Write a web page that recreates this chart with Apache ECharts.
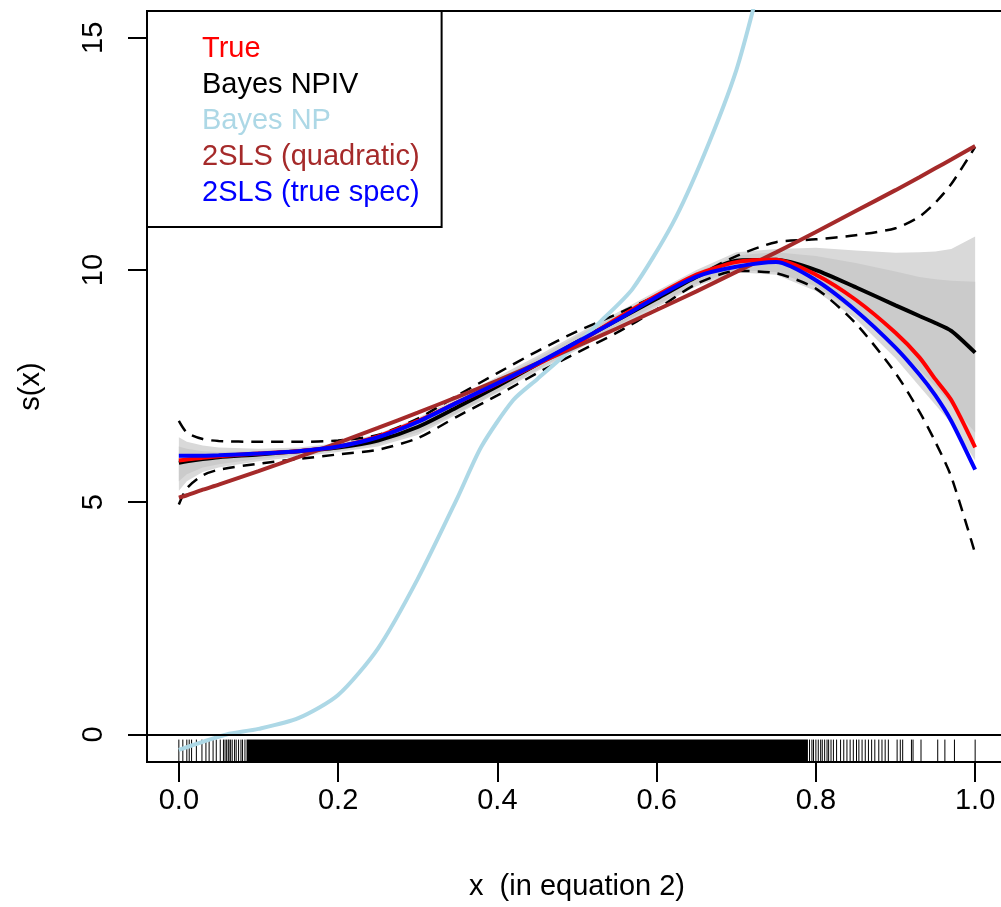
<!DOCTYPE html>
<html>
<head>
<meta charset="utf-8">
<script src="https://cdn.jsdelivr.net/npm/echarts@6/dist/echarts.min.js"></script>
<style>
  html, body { margin: 0; padding: 0; background: #fff; }
  #chart { width: 1001px; height: 907px; }
</style>
</head>
<body>
<div id="chart"></div>
<script>
// shared x grid for the estimated curves
var xs = [0, 0.01, 0.03, 0.05, 0.1, 0.15, 0.2, 0.25, 0.3, 0.35, 0.4, 0.45, 0.5,
  0.55, 0.6, 0.65, 0.7, 0.75, 0.8, 0.85, 0.9, 0.93, 0.95, 0.97, 1];

var trueY = [5.9, 5.92, 5.96, 5.99, 6.05, 6.1, 6.2, 6.42, 6.75, 7.15, 7.55, 7.97, 8.42,
  8.95, 9.45, 9.9, 10.17, 10.22, 9.9, 9.36, 8.65, 8.12, 7.65, 7.2, 6.18];
var npivY = [5.85, 5.88, 5.93, 5.97, 6.03, 6.1, 6.18, 6.33, 6.62, 7.05, 7.5, 7.97, 8.45,
  8.92, 9.38, 9.85, 10.2, 10.22, 10.0, 9.63, 9.24, 9.01, 8.86, 8.69, 8.22];
var tslsTrueY = [6.0, 6.0, 6.0, 6.01, 6.05, 6.1, 6.2, 6.4, 6.73, 7.15, 7.56, 7.99, 8.45,
  8.92, 9.42, 9.86, 10.07, 10.17, 9.78, 9.13, 8.33, 7.75, 7.3, 6.75, 5.7];
var tslsQuadY = [5.1, 5.15, 5.27, 5.38, 5.67, 5.97, 6.28, 6.6, 6.93, 7.27, 7.62, 7.99, 8.36,
  8.74, 9.14, 9.54, 9.96, 10.38, 10.82, 11.27, 11.72, 12.0, 12.19, 12.38, 12.67];
var dashHi = [6.75, 6.5, 6.36, 6.32, 6.3, 6.3, 6.33, 6.45, 6.8, 7.3, 7.78, 8.25, 8.68,
  9.05, 9.45, 9.87, 10.3, 10.6, 10.66, 10.75, 10.9, 11.15, 11.45, 11.85, 12.65];
var dashLo = [4.95, 5.3, 5.58, 5.7, 5.83, 5.93, 6.03, 6.13, 6.38, 6.85, 7.3, 7.78, 8.22,
  8.65, 9.15, 9.7, 9.98, 9.93, 9.6, 8.85, 7.78, 6.95, 6.3, 5.55, 3.9];
var outerHi = [6.4, 6.3, 6.22, 6.18, 6.15, 6.18, 6.27, 6.47, 6.82, 7.25, 7.7, 8.15, 8.62,
  9.08, 9.55, 10.0, 10.38, 10.45, 10.48, 10.42, 10.37, 10.38, 10.4, 10.45, 10.72];
var outerLo = [5.25, 5.45, 5.65, 5.75, 5.88, 5.98, 6.08, 6.2, 6.45, 6.9, 7.35, 7.82, 8.28,
  8.75, 9.2, 9.65, 9.95, 9.9, 9.55, 8.95, 8.1, 7.5, 7.1, 6.7, 5.9];
var innerHi = [6.2, 6.15, 6.1, 6.08, 6.1, 6.15, 6.24, 6.44, 6.78, 7.2, 7.65, 8.1, 8.58,
  9.03, 9.5, 9.95, 10.32, 10.38, 10.3, 10.15, 9.97, 9.85, 9.8, 9.77, 9.75];
var innerLo = [5.45, 5.6, 5.75, 5.82, 5.93, 6.02, 6.12, 6.25, 6.5, 6.93, 7.38, 7.85, 8.32,
  8.8, 9.25, 9.7, 10.0, 9.95, 9.65, 9.1, 8.35, 7.85, 7.5, 7.1, 6.5];

// Bayes NP curve (leaves the top of the plot)
var npX = [0, 0.03, 0.06, 0.1, 0.15, 0.2, 0.25, 0.3, 0.35, 0.38, 0.42, 0.45, 0.49,
  0.53, 0.57, 0.62, 0.66, 0.7, 0.73];
var npY = [-0.33, -0.16, 0.0, 0.12, 0.35, 0.85, 1.85, 3.35, 5.1, 6.2, 7.2, 7.65, 8.25,
  8.9, 9.6, 11.0, 12.5, 14.3, 16.2];

// rug of observed x
var rugTicks = [0, 0.005, 0.01, 0.013, 0.016, 0.022, 0.029, 0.034, 0.038, 0.043, 0.047,
  0.052, 0.056, 0.058, 0.06, 0.062, 0.063, 0.065, 0.067, 0.07, 0.072, 0.075, 0.078,
  0.08, 0.083, 0.792, 0.795, 0.797, 0.8, 0.803, 0.806, 0.808, 0.811, 0.814, 0.816,
  0.819, 0.822, 0.826, 0.831, 0.835, 0.839, 0.843, 0.847, 0.851, 0.854, 0.858, 0.862,
  0.866, 0.87, 0.874, 0.879, 0.883, 0.887, 0.891, 0.902, 0.906, 0.909, 0.92, 0.922,
  0.932, 0.953, 0.962, 0.974, 1.0];
var rugDense = [[0.085, 0.79]];

var xTicks = [0, 0.2, 0.4, 0.6, 0.8, 1.0];
var yTicks = [0, 5, 10, 15];

var xMin = -0.04, xMax = 1.04;
var yMin = -0.593, yMax = 15.577;
var rugTop = -0.11;
var font = 'Liberation Sans, Arial, Helvetica, sans-serif';

var chart = echarts.init(document.getElementById('chart'));

function pairs(x, y) {
  return x.map(function (v, i) { return [v, y[i]]; });
}

function band(name, hi, lo, color) {
  return {
    type: 'custom',
    name: name,
    silent: true,
    clip: true,
    data: [[xs[0], lo[0]]],
    renderItem: function (params, api) {
      var pts = [];
      for (var i = 0; i < xs.length; i++) pts.push(api.coord([xs[i], hi[i]]));
      for (var j = xs.length - 1; j >= 0; j--) pts.push(api.coord([xs[j], lo[j]]));
      return { type: 'polygon', shape: { points: pts }, style: { fill: color } };
    }
  };
}

function curve(name, x, y, color, width, dashed) {
  return {
    type: 'line',
    name: name,
    data: pairs(x, y),
    showSymbol: false,
    smooth: 0.25,
    clip: true,
    silent: true,
    lineStyle: { color: color, width: width, type: dashed ? [12, 8] : 'solid' },
    itemStyle: { color: color }
  };
}

var option = {
  animation: false,
  backgroundColor: '#fff',
  grid: {
    left: 147, top: 11, width: 860, height: 751,
    outerBoundsMode: 'none',
    containLabel: false,
    show: true, borderColor: '#000', borderWidth: 2, backgroundColor: 'transparent'
  },
  legend: {
    left: 147, top: 11,
    orient: 'vertical',
    padding: [20, 22, 16, 25],
    itemWidth: 25, itemHeight: 10, itemGap: 0,
    icon: 'rect',
    itemStyle: { opacity: 0 },
    borderColor: '#000', borderWidth: 2, borderRadius: 0,
    backgroundColor: '#fff',
    selectedMode: false,
    textStyle: { fontSize: 29, lineHeight: 36, fontFamily: font },
    data: [
      { name: 'True', textStyle: { color: '#ff0000' } },
      { name: 'Bayes NPIV', textStyle: { color: '#000000' } },
      { name: 'Bayes NP', textStyle: { color: '#add8e6' } },
      { name: '2SLS (quadratic)', textStyle: { color: '#a52a2a' } },
      { name: '2SLS (true spec)', textStyle: { color: '#0000ff' } }
    ]
  },
  xAxis: {
    type: 'value', min: xMin, max: xMax,
    axisLine: { show: false, onZero: false },
    splitLine: { show: false },
    axisTick: { show: true, length: 20, customValues: xTicks,
      lineStyle: { color: '#000', width: 2 } },
    axisLabel: { customValues: xTicks, fontSize: 29, color: '#000', fontFamily: font,
      margin: 24, formatter: function (v) { return v.toFixed(1); } },
    name: 'x  (in equation 2)', nameLocation: 'middle', nameGap: 110,
    nameTextStyle: { fontSize: 29, color: '#000', fontFamily: font }
  },
  yAxis: {
    type: 'value', min: yMin, max: yMax,
    axisLine: { show: false, onZero: false },
    splitLine: { show: false },
    axisTick: { show: true, length: 19, customValues: yTicks,
      lineStyle: { color: '#000', width: 2 } },
    axisLabel: { customValues: yTicks, fontSize: 29, color: '#000', fontFamily: font,
      margin: 39, rotate: 90, formatter: function (v) { return String(v); } },
    name: 's(x)', nameLocation: 'middle', nameGap: 102, nameRotate: 90,
    nameTextStyle: { fontSize: 29, color: '#000', fontFamily: font }
  },
  series: [
    band('outer band', outerHi, outerLo, '#d9d9d9'),
    band('inner band', innerHi, innerLo, '#cbcbcb'),
    curve('upper', xs, dashHi, '#000', 2.5, true),
    curve('lower', xs, dashLo, '#000', 2.5, true),
    curve('Bayes NPIV', xs, npivY, '#000000', 4),
    curve('Bayes NP', npX, npY, '#add8e6', 4),
    curve('2SLS (quadratic)', xs, tslsQuadY, '#a52a2a', 4),
    curve('True', xs, trueY, '#ff0000', 4),
    curve('2SLS (true spec)', xs, tslsTrueY, '#0000ff', 4),
    {
      type: 'custom',
      name: 'rug',
      silent: true,
      data: rugTicks.map(function (v) { return [v, rugTop]; }),
      renderItem: function (params, api) {
        var p0 = api.coord([api.value(0), yMin]);
        var p1 = api.coord([api.value(0), rugTop]);
        return { type: 'line', shape: { x1: p0[0], y1: p0[1], x2: p1[0], y2: p1[1] },
          style: { stroke: '#000', lineWidth: 1 } };
      },
      markLine: {
        silent: true, symbol: 'none', animation: false,
        label: { show: false },
        lineStyle: { color: '#000', width: 2, type: 'solid' },
        data: [{ yAxis: 0 }]
      }
    },
    {
      type: 'custom',
      name: 'rug dense',
      silent: true,
      data: rugDense.map(function (r) { return [r[0], rugTop, r[1]]; }),
      renderItem: function (params, api) {
        var p0 = api.coord([api.value(0), rugTop]);
        var p1 = api.coord([api.value(2), yMin]);
        return { type: 'rect', shape: { x: p0[0], y: p0[1], width: p1[0] - p0[0], height: p1[1] - p0[1] },
          style: { fill: '#000' } };
      }
    }
  ]
};

chart.setOption(option);
</script>
</body>
</html>
